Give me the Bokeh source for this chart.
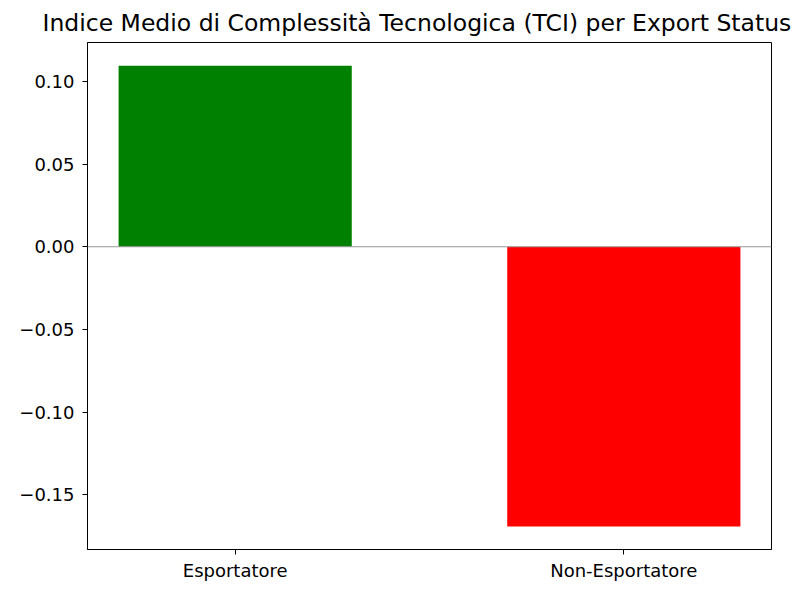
from bokeh.plotting import figure
from bokeh.models import Range1d, FixedTicker, Span, ColumnDataSource
from bokeh.embed import file_html
from bokeh.resources import INLINE

categories = ["Esportatore", "Non-Esportatore"]
values = [0.1096, -0.1693]
colors = ["green", "red"]
y_ticks = [-0.15, -0.10, -0.05, 0.0, 0.05, 0.10]
y_tick_labels = ["\u22120.15", "\u22120.10", "\u22120.05", "0.00", "0.05", "0.10"]

xs = list(range(len(categories)))
src = ColumnDataSource(dict(x=xs, top=values, color=colors))

p = figure(width=799, height=583, output_backend="svg", toolbar_location=None,
           x_range=Range1d(-0.38, 1.38), y_range=Range1d(-0.1832, 0.1236),
           title="Indice Medio di Complessità Tecnologica (TCI) per Export Status",
           min_border_left=87, min_border_right=28, min_border_top=42, min_border_bottom=32)

p.vbar(x="x", top="top", bottom=0, width=0.6, color="color", source=src, line_color=None)
p.add_layout(Span(location=0, dimension="width", line_color="#999999", line_width=1.2))

p.title.text_font = "DejaVu Sans"
p.title.text_font_size = "23.5px"
p.title.text_font_style = "normal"
p.title.align = "left"
p.title.offset = -45
p.title.text_color = "black"
p.title.standoff = 12

p.xgrid.visible = False
p.ygrid.visible = False
p.outline_line_color = "black"
p.outline_line_width = 1

p.xaxis.ticker = FixedTicker(ticks=xs)
p.xaxis.major_label_overrides = {i: c for i, c in enumerate(categories)}
p.yaxis.ticker = FixedTicker(ticks=y_ticks)
p.yaxis.major_label_overrides = {t: l for t, l in zip(y_ticks, y_tick_labels)}
p.yaxis.major_label_standoff = 8

for ax in (p.xaxis, p.yaxis):
    ax.major_label_text_font = "DejaVu Sans"
    ax.major_label_text_font_size = "18px"
    ax.major_label_text_color = "black"
    ax.minor_tick_line_color = None
    ax.major_tick_in = 0
    ax.major_tick_out = 5
    ax.major_tick_line_color = "black"
    ax.axis_line_color = "black"

html = file_html(p, INLINE)
open("out.html", "w").write(html)
